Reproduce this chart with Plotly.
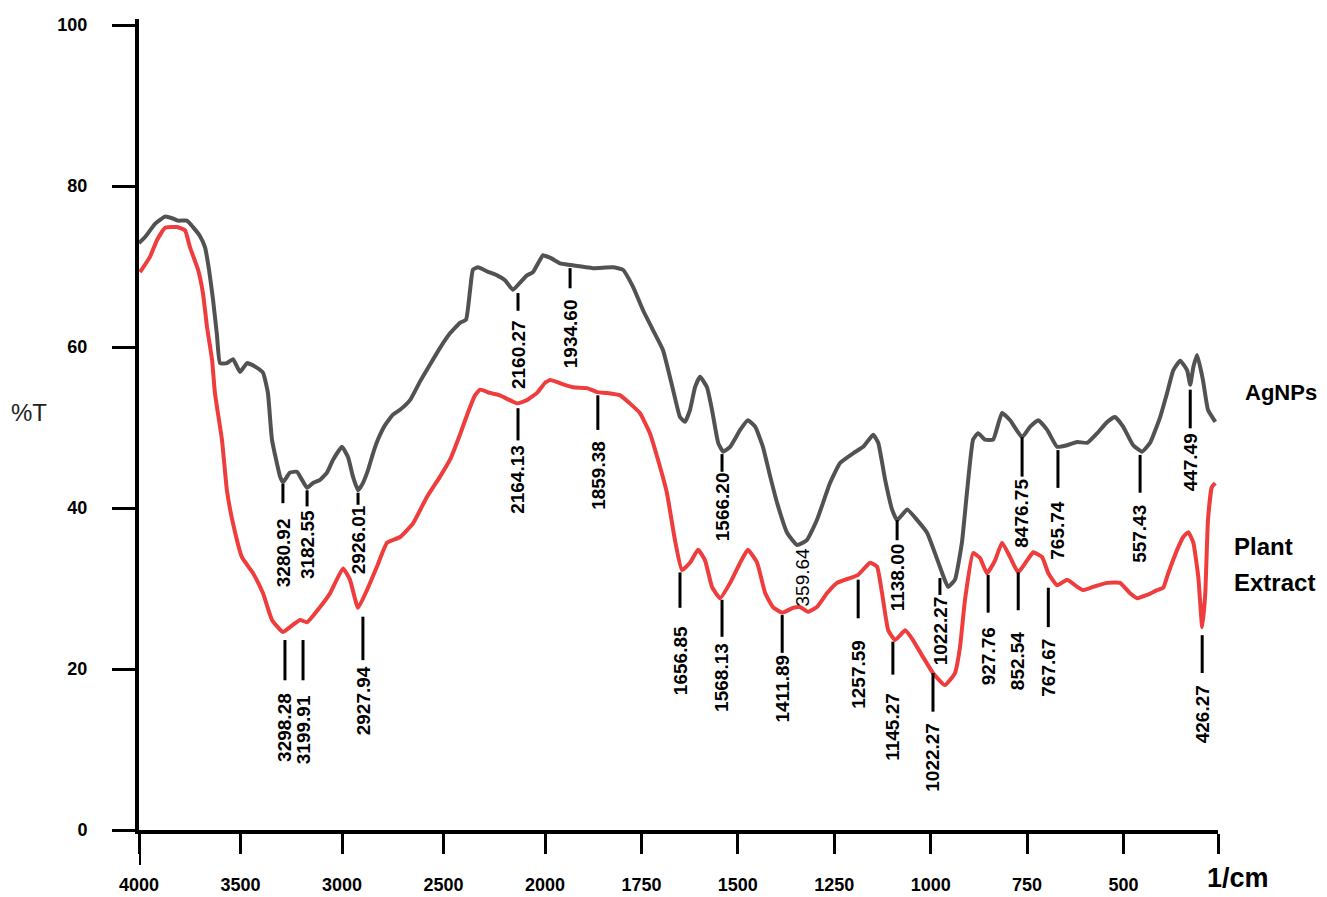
import plotly.graph_objects as go
import numpy as np

# ---------------- data (wavenumber 1/cm, %T) ----------------
agnp_wn = [4000, 3966, 3921, 3872, 3837, 3808, 3764, 3734, 3700, 3675, 3655, 3635, 3616, 3601,
           3567, 3537, 3502, 3468, 3424, 3389, 3365, 3345, 3305, 3291, 3256, 3222, 3197, 3172,
           3143, 3108, 3074, 3044, 3000, 2970, 2946, 2921, 2897, 2872, 2847, 2823, 2788, 2749,
           2714, 2665, 2616, 2567, 2517, 2468, 2419, 2389, 2369, 2355, 2330, 2286, 2236, 2197,
           2158, 2123, 2089, 2059, 2010, 1987, 1961, 1935, 1876, 1824, 1798, 1772, 1746, 1720,
           1694, 1668, 1650, 1637, 1624, 1611, 1598, 1580, 1567, 1551, 1538, 1520, 1494, 1474,
           1455, 1435, 1416, 1398, 1372, 1346, 1321, 1295, 1261, 1235, 1201, 1175, 1149, 1136,
           1118, 1100, 1087, 1061, 1035, 1009, 989, 970, 955, 937, 919, 906, 890, 877, 859, 838,
           815, 794, 763, 742, 721, 698, 672, 646, 620, 594, 568, 542, 522, 501, 475, 452, 431,
           405, 387, 371, 353, 335, 327, 319, 309, 294, 281, 262]
agnp_T = [72.9, 73.8, 75.3, 76.2, 76.0, 75.7, 75.7, 74.9, 73.8, 72.4, 69.6, 65.8, 61.5, 58.0,
          58.0, 58.5, 56.9, 58.0, 57.5, 56.8, 54.3, 48.5, 43.9, 43.2, 44.4, 44.5, 43.5, 42.5,
          43.1, 43.5, 44.4, 46.0, 47.6, 46.3, 43.9, 42.2, 43.1, 44.7, 46.8, 48.5, 50.3, 51.6,
          52.2, 53.4, 55.7, 57.8, 59.9, 61.7, 63.0, 63.4, 67.1, 69.6, 69.9, 69.4, 68.9, 68.3,
          67.1, 68.0, 68.9, 69.3, 71.4, 71.1, 70.4, 70.2, 69.8, 69.9, 69.6, 67.5, 64.6, 62.1,
          59.6, 54.7, 51.3, 50.7, 52.2, 55.0, 56.3, 55.0, 52.2, 48.1, 47.0, 47.6, 49.7, 50.9,
          50.1, 47.6, 43.9, 40.6, 36.9, 35.4, 36.0, 38.5, 43.1, 45.6, 46.8, 47.6, 49.1, 48.1,
          43.5, 39.8, 38.5, 39.8, 38.5, 36.9, 34.4, 31.9, 30.2, 31.1, 35.7, 41.9, 48.5, 49.3,
          48.5, 48.5, 51.8, 50.9, 48.8, 50.1, 50.9, 49.7, 47.6, 47.8, 48.2, 48.1, 49.3, 50.7,
          51.3, 50.1, 47.8, 47.0, 48.1, 51.3, 54.3, 57.1, 58.3, 57.1, 55.3, 57.5, 59.0, 55.9,
          52.2, 50.7]

ext_wn = [3995, 3946, 3911, 3872, 3813, 3773, 3749, 3709, 3685, 3665, 3640, 3626, 3591, 3567,
          3537, 3493, 3438, 3389, 3345, 3291, 3241, 3207, 3172, 3108, 3059, 2995, 2961, 2921,
          2877, 2828, 2778, 2714, 2650, 2581, 2517, 2468, 2419, 2379, 2345, 2320, 2271, 2222,
          2138, 2089, 2039, 1987, 1961, 1927, 1891, 1865, 1839, 1805, 1780, 1754, 1728, 1707,
          1684, 1663, 1645, 1624, 1603, 1585, 1567, 1546, 1520, 1494, 1474, 1450, 1429, 1409,
          1385, 1357, 1339, 1318, 1295, 1269, 1243, 1209, 1188, 1157, 1139, 1126, 1110, 1092,
          1066, 1046, 1020, 994, 963, 937, 924, 911, 890, 872, 854, 833, 815, 794, 773, 750,
          734, 711, 695, 672, 646, 620, 605, 579, 542, 509, 483, 465, 439, 413, 397, 384, 361,
          345, 332, 319, 306, 296, 288, 281, 271, 262]
ext_T = [69.3, 71.2, 73.3, 74.8, 74.9, 74.5, 72.4, 69.6, 66.7, 62.5, 58.4, 54.3, 48.4, 42.2,
         38.1, 33.9, 31.9, 29.4, 26.1, 24.6, 25.5, 26.1, 25.8, 27.7, 29.4, 32.5, 31.1, 27.6,
         29.8, 32.7, 35.7, 36.4, 38.1, 41.4, 43.9, 46.0, 49.1, 51.9, 54.0, 54.7, 54.3, 54.0,
         53.0, 53.4, 54.3, 55.9, 55.5, 55.0, 54.9, 54.4, 54.3, 54.0, 53.0, 51.8, 49.3, 46.0,
         41.9, 36.0, 32.3, 33.2, 34.8, 33.5, 30.2, 28.8, 30.7, 33.2, 34.8, 33.2, 29.4, 27.7,
         27.0, 27.6, 27.7, 27.1, 27.7, 29.4, 30.7, 31.3, 31.7, 33.2, 32.7, 29.4, 24.8, 23.6,
         24.8, 23.6, 21.5, 19.5, 18.0, 19.5, 22.7, 28.6, 34.4, 33.8, 31.9, 33.5, 35.7, 33.9,
         32.0, 33.5, 34.5, 33.9, 31.9, 30.4, 31.1, 30.2, 29.8, 30.2, 30.7, 30.7, 29.4, 28.8,
         29.2, 29.8, 30.1, 31.9, 34.8, 36.4, 37.0, 35.7, 31.4, 25.2, 29.4, 38.5, 42.6, 43.1]

x_ticks_high = [4000, 3500, 3000, 2500, 2000]
x_ticks_low = [1750, 1500, 1250, 1000, 750, 500]
y_ticks = [0, 20, 40, 60, 80, 100]

# peak labels
agnp_peak_text = ["3280.92", "3182.55", "2926.01", "2160.27", "1934.60", "1566.20", "359.64",
                  "1138.00", "1022.27", "8476.75", "765.74", "557.43", "447.49"]
agnp_peak_wn = [3291, 3172, 2921, 2133, 1935, 1541, 1333, 1087, 976, 763, 670, 457, 327]
ext_peak_text = ["3298.28", "3199.91", "2927.94", "2164.13", "1859.38", "1656.85", "1568.13",
                 "1411.89", "1257.59", "1145.27", "1022.27", "927.76", "852.54", "767.67",
                 "426.27"]
ext_peak_wn = [3281, 3192, 2897, 2133, 1863, 1650, 1541, 1385, 1188, 1098, 994, 851, 773, 695,
               296]

# label layout: (line top, line bottom, text centre) in %T; None = no line
agnp_label_layout = [(43.0, 40.6, 34.5), (42.2, 40.2, 35.4), (41.9, 40.4, 36.0),
                     (66.7, 64.5, 59.0), (69.8, 67.3, 61.6), (46.7, 44.5, 40.1),
                     (None, None, 31.4), (38.5, 36.0, 31.4), (31.3, 29.2, 24.8),
                     (48.8, 43.9, 39.3), (47.2, 42.5, 37.3), (46.6, 41.9, 36.8),
                     (54.7, 49.9, 45.7)]
ext_label_layout = [(23.6, 18.6, 12.8), (23.6, 18.6, 12.4), (26.5, 21.1, 16.1),
                    (52.4, 48.4, 43.5), (54.0, 49.7, 44.1), (32.0, 27.6, 21.1),
                    (28.6, 24.0, 18.9), (26.7, 22.0, 17.6), (31.1, 26.3, 19.3),
                    (23.4, 19.3, 12.8), (19.5, 14.7, 9.1), (31.7, 27.0, 21.6),
                    (32.0, 27.3, 21.0), (30.1, 25.2, 20.2), (24.2, 19.5, 14.4)]

# ---------------- figure ----------------
W, H = 1327, 897
ML, MR, MT, MB = 139, W - 1218, 19, H - 830
pw = W - ML - MR
ph = H - MT - MB
split = (545 - 139) / pw

GRAY = "#525252"
RED = "#ef3c3c"
FONT = "Liberation Sans"

fig = go.Figure()
for xa in ["x", "x2"]:
    fig.add_trace(go.Scatter(x=agnp_wn, y=agnp_T, xaxis=xa, yaxis="y", mode="lines",
                             line=dict(color=GRAY, width=4, shape="spline", smoothing=0.4),
                             showlegend=False, hoverinfo="skip"))
    fig.add_trace(go.Scatter(x=ext_wn, y=ext_T, xaxis=xa, yaxis="y", mode="lines",
                             line=dict(color=RED, width=4, shape="spline", smoothing=0.4),
                             showlegend=False, hoverinfo="skip"))

shapes = []
annotations = []


def add_labels(texts, wns, layout):
    for txt_, wn, (top, bot, tc) in zip(texts, wns, layout):
        xr = "x" if wn >= 2000 else "x2"
        if top is not None:
            shapes.append(dict(type="line", xref=xr, yref="y", x0=wn, x1=wn, y0=top, y1=bot,
                               line=dict(color="black", width=3)))
        bold = txt_ != "359.64"
        annotations.append(dict(x=wn, y=tc, xref=xr, yref="y", text=txt_, showarrow=False,
                                textangle=-90, xanchor="center", yanchor="middle",
                                font=dict(family=FONT, size=19, color="black",
                                          weight="bold" if bold else "normal")))


add_labels(agnp_peak_text, agnp_peak_wn, agnp_label_layout)
add_labels(ext_peak_text, ext_peak_wn, ext_label_layout)


def px(x):
    return (x - ML) / pw


def py(y):
    return (H - MB - y) / ph


def txt(x, y, s, size, weight="bold", xanchor="center", color="black"):
    return dict(x=px(x), y=py(y), xref="paper", yref="paper", text=s, showarrow=False,
                xanchor=xanchor, yanchor="middle",
                font=dict(family=FONT, size=size, color=color, weight=weight))


annotations += [
    txt(29, 412, "%T", 24, weight="normal", color="#222222"),
    txt(1238, 878, "1/cm", 27),
    txt(1243, 392, "AgNPs", 22, xanchor="left"),
    txt(1232, 546, "Plant", 24, xanchor="left"),
    txt(1232, 582, "Extract", 24, xanchor="left"),
]

# longer tick at origin (cross)
shapes.append(dict(type="line", xref="x", yref="paper", x0=4000, x1=4000, y0=0,
                   y1=-(865 - 830) / ph, line=dict(color="black", width=4)))

tickfont = dict(family=FONT, size=18, color="black", weight="bold")
common_x = dict(showgrid=False, zeroline=False, showline=True, linecolor="black", linewidth=4,
                ticks="outside", ticklen=20, tickwidth=3, tickcolor="black", tickfont=tickfont,
                ticklabelstandoff=15, anchor="y", automargin=False)

fig.update_layout(
    width=W, height=H, autosize=False,
    margin=dict(l=ML, r=MR, t=MT, b=MB, pad=0),
    paper_bgcolor="white", plot_bgcolor="white",
    xaxis=dict(domain=[0, split], range=[4000, 2000], tickmode="array",
               tickvals=x_ticks_high, ticktext=[str(v) for v in x_ticks_high], **common_x),
    xaxis2=dict(domain=[split, 1], range=[2000, 255], tickmode="array",
                tickvals=x_ticks_low + [255], ticktext=[str(v) for v in x_ticks_low] + [""],
                **common_x),
    yaxis=dict(range=[0, 100.75], tickmode="array", tickvals=y_ticks,
               ticktext=[str(v) for v in y_ticks], showgrid=False, zeroline=False,
               showline=True, linecolor="black", linewidth=4, ticks="outside", ticklen=23,
               tickwidth=3, tickcolor="black", tickfont=tickfont, ticklabelstandoff=21,
               anchor="x", automargin=False),
    shapes=shapes,
    annotations=annotations,
)

# remove the default 8px page margin so the figure fills the window exactly
fig.write_html("out.html", config={"displayModeBar": False},
               post_script="document.body.style.margin='0';document.body.style.overflow='hidden';")
